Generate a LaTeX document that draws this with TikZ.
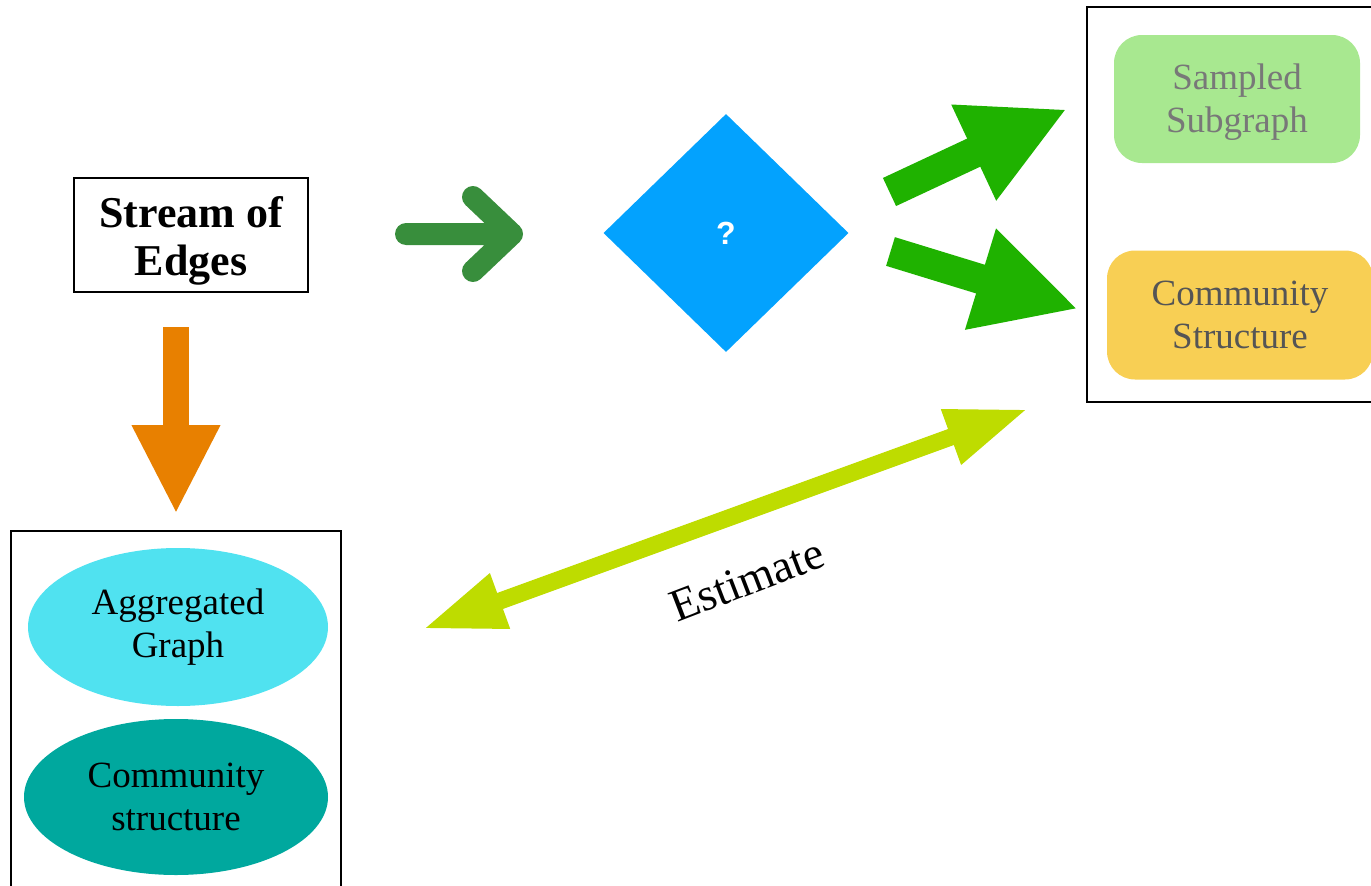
\documentclass[tikz,border=0pt]{standalone}
\usepackage{fontspec}
\setmainfont{Liberation Serif}
\newfontfamily\qfont{Liberation Sans}
\usetikzlibrary{shapes.geometric,arrows.meta}

\definecolor{chevgreen}{RGB}{56,142,60}
\definecolor{diamondblue}{RGB}{3,162,254}
\definecolor{brightgreen}{RGB}{31,178,0}
\definecolor{samplegreen}{RGB}{168,232,144}
\definecolor{commyellow}{RGB}{248,207,84}
\definecolor{aggorange}{RGB}{232,128,0}
\definecolor{aggcyan}{RGB}{80,226,240}
\definecolor{commteal}{RGB}{0,168,158}
\definecolor{estlime}{RGB}{190,220,0}
\definecolor{softgray}{RGB}{120,120,120}
\definecolor{darkgray}{RGB}{85,85,85}

\tikzset{
  frame/.style={draw=black, line width=2pt, inner sep=0pt, fill=none},
  boxtext/.style={font=\fontsize{37}{43}\selectfont, align=center},
  roundbox/.style={boxtext, rounded corners=28pt, inner sep=0pt},
  blob/.style={ellipse, boxtext, inner sep=0pt},
  blockarrow/.style={line cap=butt}
}

\begin{document}
\begin{tikzpicture}[x=1pt, y=-1pt]
  \useasboundingbox (0,0) rectangle (1371,886);
  \clip (0,0) rectangle (1371,886);

  % source box, its text sitting slightly low
  \node[frame, minimum width=234pt, minimum height=114pt,
        label={[font=\bfseries\fontsize{44}{48}\selectfont, align=center,
                yshift=-6pt]center:Stream of\\Edges}]
        (stream) at (191,235) {};

  % sampler (unknown)
  \node[diamond, fill=diamondblue, inner sep=0pt,
        minimum width=245pt, minimum height=238pt,
        font=\qfont\bfseries\fontsize{32}{36}\selectfont, text=white]
        (sampler) at (726,233) {?};

  % stream -> sampler chevron arrow
  \coordinate (chevS) at (406,234);
  \coordinate (chevT) at (512,234);
  \coordinate (chevA) at (473,197);
  \coordinate (chevB) at (473,271);
  \draw[chevgreen, line width=22pt, line cap=round, line join=round]
        (chevS) -- (chevT) (chevA) -- (chevT) -- (chevB);

  % right frame with sampled outputs
  \node[frame, minimum width=298pt, minimum height=395pt]
        (rframe) at (1236,204.5) {};
  \node[roundbox, fill=samplegreen,
        minimum width=246pt, minimum height=128pt,
        label={[boxtext, text=softgray, yshift=-3pt]center:Sampled\\Subgraph}]
        (sampled) at (1237,99) {};
  \node[roundbox, fill=commyellow, text=darkgray,
        minimum width=266pt, minimum height=129pt]
        (commS) at (1240,315) {Community\\Structure};

  % sampler -> outputs
  \coordinate (upS) at (889.5,192);
  \coordinate (upT) at (1067,109);
  \coordinate (loS) at (890.5,251.5);
  \coordinate (loT) at (1078,309);
  \draw[blockarrow, brightgreen, line width=31pt,
        -{Triangle[length=103pt, width=98pt]}] (upS) -- (upT);
  \draw[blockarrow, brightgreen, line width=30pt,
        -{Triangle[length=102pt, width=98pt]}] (loS) -- (loT);

  % left frame with exact results
  \node[frame, minimum width=330pt, minimum height=370pt]
        (lframe) at (176,716) {};
  \node[blob, fill=aggcyan, minimum width=300pt, minimum height=158pt]
        (agg) at (178,627) {Aggregated\\Graph};
  \node[blob, fill=commteal, minimum width=304pt, minimum height=156pt]
        (commE) at (176,797) {Community\\structure};

  % stream -> aggregation
  \coordinate (downS) at (176,327);
  \coordinate (downT) at (176,514);
  \draw[blockarrow, aggorange, line width=26.5pt,
        -{Triangle[length=89pt, width=82pt]}] (downS) -- (downT);

  % estimate link
  \coordinate (estL) at (423,629);
  \coordinate (estR) at (1028,409);
  \draw[blockarrow, estlime, line width=17pt,
        {Triangle[length=82pt, width=54pt]}-{Triangle[length=82pt, width=54pt]}]
        (estL) -- (estR);
  \node[rotate=21, font=\fontsize{46}{50}\selectfont]
        (estlabel) at (747,580) {Estimate};
\end{tikzpicture}
\end{document}
